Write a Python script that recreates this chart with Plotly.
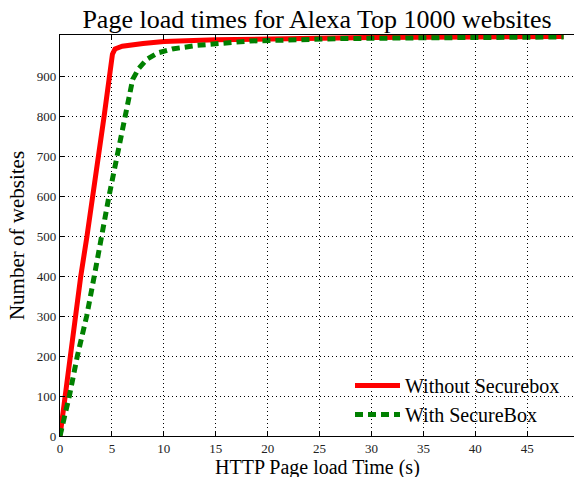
import plotly.graph_objects as go

# Without Securebox (red, solid)
red_x = [0, 0.48, 0.95, 1.45, 2.0, 2.6, 3.1, 3.7, 4.25, 4.75, 5.05, 5.3, 6.0, 8.0, 10.0, 15.0, 20.0, 30.0, 40.0, 48.5]
red_y = [0, 100, 200, 300, 400, 500, 600, 700, 800, 900, 955, 968, 975, 982, 987, 991, 994, 997, 998, 999]

# With SecureBox (green, dashed)
green_x = [0, 0.9, 1.67, 2.57, 3.3, 3.95, 4.72, 5.5, 6.26, 6.6, 7.0, 7.6, 8.35, 9.4, 10.8, 13.2, 15.4, 18.3, 23.0, 27.0, 35.0, 48.5]
green_y = [0, 100, 200, 300, 400, 500, 600, 700, 800, 850, 892, 920, 942, 958, 968, 977, 983, 988, 991, 994, 996, 998]

x_ticks = [0, 5, 10, 15, 20, 25, 30, 35, 40, 45]
y_ticks = [0, 100, 200, 300, 400, 500, 600, 700, 800, 900]

FONT = "Liberation Serif"

fig = go.Figure()
fig.add_trace(go.Scatter(x=red_x, y=red_y, mode="lines", name="Without Securebox",
                         line=dict(color="#ff0000", width=5)))
fig.add_trace(go.Scatter(x=green_x, y=green_y, mode="lines", name="With SecureBox",
                         line=dict(color="#008000", width=5, dash="8px,5px")))

axis_common = dict(
    showline=True, linecolor="black", linewidth=1.2,
    ticks="inside", ticklen=5, tickcolor="black",
    showgrid=True, gridcolor="black", gridwidth=1, griddash="1px,3px",
    zeroline=False, automargin=False,
    tickfont=dict(family=FONT, size=13, color="#222"),
)

fig.update_layout(
    width=574, height=477,
    margin=dict(l=60, r=0, t=35, b=41),
    paper_bgcolor="white", plot_bgcolor="white",
    title=dict(text="Page load times for Alexa Top 1000 websites",
               font=dict(family=FONT, size=26, color="black"),
               x=0.5, xref="paper", xanchor="center",
               y=1 - 19 / 477, yref="container", yanchor="middle"),
    xaxis=dict(range=[0, 49.5], tickvals=x_ticks, mirror="ticks", **axis_common),
    yaxis=dict(range=[0, 1003], tickvals=y_ticks, mirror=False,
               title=dict(text="Number of websites", font=dict(family=FONT, size=21, color="black"),
                          standoff=6),
               **axis_common),
    legend=dict(x=(350 - 60) / 514, y=(436 - 366) / 401, xref="paper", yref="paper",
                xanchor="left", yanchor="top", itemwidth=45,
                bgcolor="rgba(0,0,0,0)", borderwidth=0,
                font=dict(family=FONT, size=20, color="black")),
    showlegend=True,
)

fig.add_annotation(text="HTTP Page load Time (s)", xref="paper", yref="paper",
                   x=0.5, y=(436 - 467) / 401, xanchor="center", yanchor="middle",
                   showarrow=False, borderpad=0,
                   font=dict(family=FONT, size=20, color="black"))

fig.write_html("out.html")
